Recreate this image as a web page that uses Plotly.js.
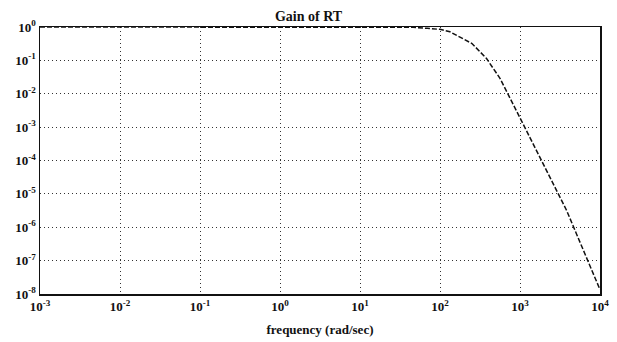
<!DOCTYPE html>
<html>
<head>
<meta charset="utf-8">
<script src="https://cdn.plot.ly/plotly-3.0.1.min.js"></script>
<style>
  html, body { margin: 0; padding: 0; background: #fff; }
  #chart { width: 617px; height: 342px; }
</style>
</head>
<body>
<div id="chart"></div>
<script>
// Frequency response magnitude of RT (log-log)
const frequency = [0.001, 0.01, 0.1, 1, 10, 30, 46, 69, 100, 133, 251, 380, 562, 1000, 3800, 10000];
const gain      = [1, 1, 1, 1, 1, 1, 0.98, 0.91, 0.85, 0.72, 0.32, 0.115, 0.029, 0.0019, 3.3e-6, 1.35e-8];

// Decade ticks for both axes
const xTickVals = [1e-3, 1e-2, 1e-1, 1e0, 1e1, 1e2, 1e3, 1e4];
const xTickText = ['10<sup>-3</sup>', '10<sup>-2</sup>', '10<sup>-1</sup>', '10<sup>0</sup>',
                   '10<sup>1</sup>', '10<sup>2</sup>', '10<sup>3</sup>', '10<sup>4</sup>'];
const yTickVals = [1e0, 1e-1, 1e-2, 1e-3, 1e-4, 1e-5, 1e-6, 1e-7, 1e-8];
const yTickText = ['10<sup>0</sup>', '10<sup>-1</sup>', '10<sup>-2</sup>', '10<sup>-3</sup>',
                   '10<sup>-4</sup>', '10<sup>-5</sup>', '10<sup>-6</sup>', '10<sup>-7</sup>', '10<sup>-8</sup>'];

const font = { family: 'Liberation Serif, Times New Roman, serif', color: '#111' };

const trace = {
  x: frequency,
  y: gain,
  type: 'scatter',
  mode: 'lines',
  line: { color: '#111', width: 1.5, dash: '5px,2px' },
  hoverinfo: 'none'
};

const axisCommon = {
  type: 'log',
  showline: true,
  mirror: true,
  linecolor: '#111',
  linewidth: 1.5,
  showgrid: true,
  gridcolor: '#333',
  griddash: '1px,3px',
  gridwidth: 1,
  zeroline: false,
  ticks: '',
  tickmode: 'array',
  tickfont: Object.assign({ size: 13, weight: 'bold' }, font)
};

const layout = {
  width: 617,
  height: 342,
  margin: { l: 40, r: 17, t: 27, b: 48 },
  paper_bgcolor: '#fff',
  plot_bgcolor: '#fff',
  showlegend: false,
  title: {
    text: '<b>Gain of RT</b>',
    font: Object.assign({ size: 14 }, font),
    x: 0.5, xanchor: 'center',
    y: 1, yref: 'paper', yanchor: 'bottom',
    pad: { b: 6 }
  },
  xaxis: Object.assign({}, axisCommon, {
    range: [-3, 4],
    tickvals: xTickVals,
    ticktext: xTickText,
    title: { text: '<b>frequency (rad/sec)</b>', font: Object.assign({ size: 13 }, font), standoff: 12 }
  }),
  yaxis: Object.assign({}, axisCommon, {
    range: [-8, 0],
    tickvals: yTickVals,
    ticktext: yTickText
  })
};

Plotly.newPlot('chart', [trace], layout, { staticPlot: true, displayModeBar: false });
</script>
</body>
</html>
